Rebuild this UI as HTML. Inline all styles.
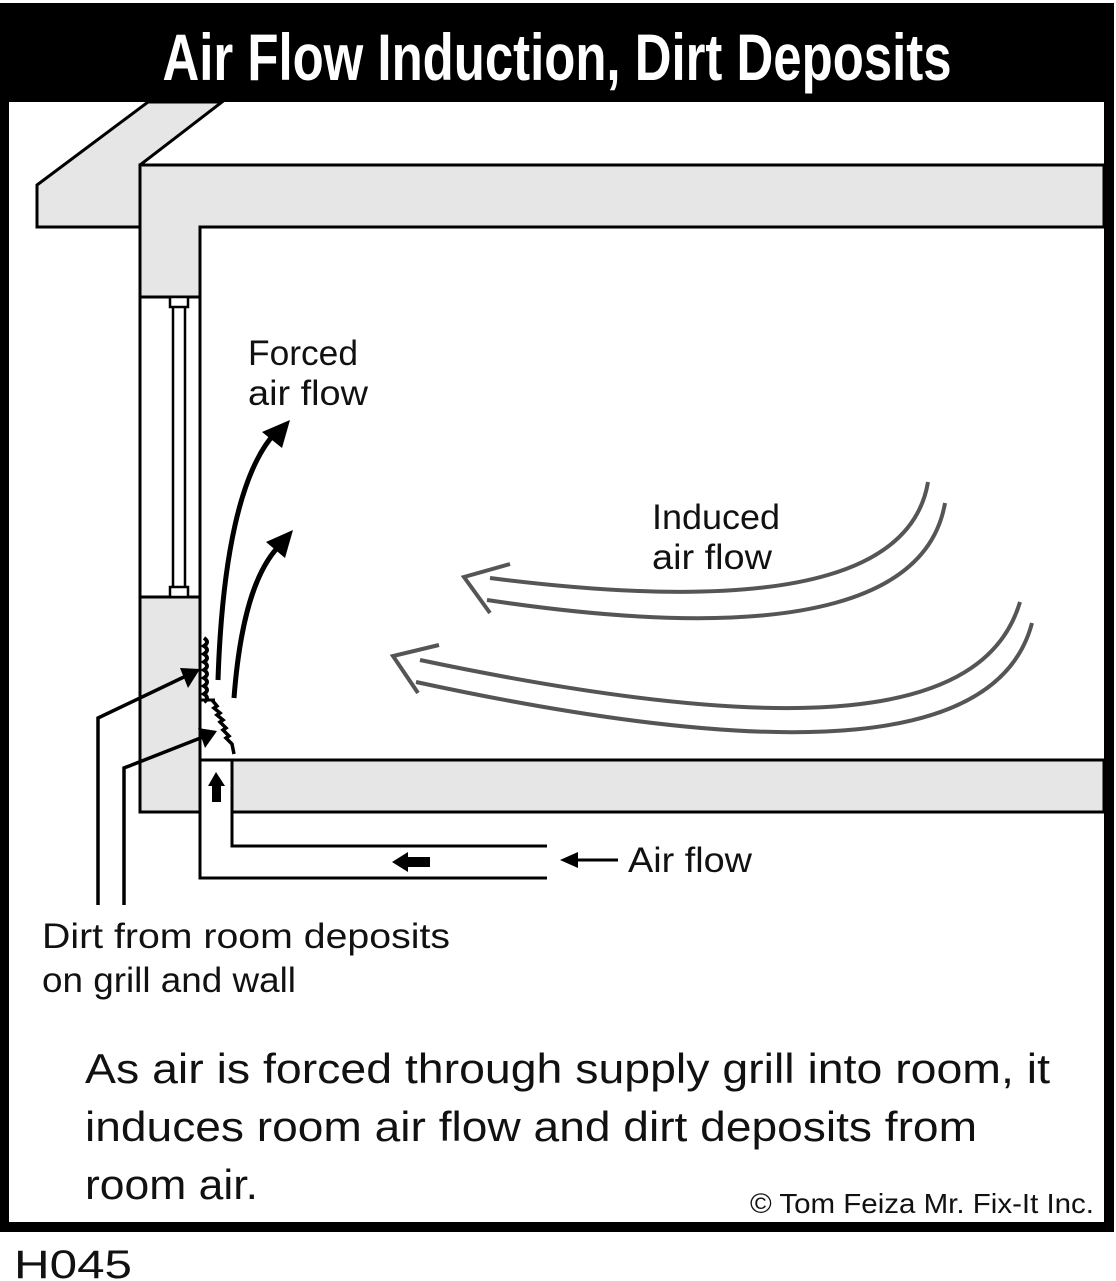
<!DOCTYPE html>
<html><head><meta charset="utf-8"><style>
html,body{margin:0;padding:0;background:#fff;}
svg{display:block;}
text{font-family:"Liberation Sans",sans-serif;fill:#111;}
</style></head><body>
<svg width="1116" height="1281" viewBox="0 0 1116 1281">
<defs>
<marker id="ah" markerWidth="10" markerHeight="10" refX="6" refY="5" orient="auto" markerUnits="userSpaceOnUse" viewBox="0 0 10 10"><path d="M0,0 L10,5 L0,10 Z" fill="#000"/></marker>
</defs>
<!-- frame -->
<rect x="0" y="3" width="1114" height="99" fill="#000"/>
<rect x="0" y="3" width="9" height="1229" fill="#000"/>
<rect x="1104" y="3" width="10" height="1229" fill="#000"/>
<rect x="0" y="1222" width="1114" height="10" fill="#000"/>
<text x="557" y="80" text-anchor="middle" font-family="'Liberation Sans Narrow','Liberation Sans',sans-serif" font-weight="bold" font-size="66" textLength="789" lengthAdjust="spacingAndGlyphs" style="fill:#fff">Air Flow Induction, Dirt Deposits</text>

<g stroke="#000" stroke-width="3" fill="#e6e6e7">
<!-- overhang -->
<polygon points="37,185 148,102 222,102 140,165 140,227 37,227"/>
<!-- ceiling + wall -->
<polygon points="140,165 1104,165 1104,227 200,227 200,812 140,812"/>
<!-- floor -->
<rect x="232" y="760" width="872" height="52"/>
</g>
<!-- window -->
<rect x="140" y="297" width="60" height="300" fill="#fff" stroke="#000" stroke-width="3"/>
<rect x="173" y="305" width="12" height="284" fill="#fff" stroke="#000" stroke-width="2.5"/>
<rect x="170" y="297" width="18" height="10" fill="#fff" stroke="#000" stroke-width="2.5"/>
<rect x="170" y="587" width="18" height="10" fill="#fff" stroke="#000" stroke-width="2.5"/>
<!-- grille area -->
<rect x="200" y="700" width="32" height="60" fill="#fff" stroke="none"/>
<path d="M200,700 L215,700 M200,700 L200,878 L547,878 M232,812 L232,846 L547,846 M200,760 L232,760" stroke="#000" stroke-width="3" fill="none"/>
<!-- dirt squiggles -->
<path d="M204,638 q6,4 0,8 q6,4 0,8 q6,4 0,8 q6,4 0,8 q6,4 0,8 q6,4 0,8 q6,4 0,8 q6,4 0,8" stroke="#000" stroke-width="4" fill="none"/>
<path d="M212,700 l5,6 l-3,2 l6,5 l-3,2 l6,5 l-3,2 l6,6 l-3,2 l6,6 l-3,2 l6,6 l2,10" stroke="#000" stroke-width="3.5" fill="none"/>
<!-- forced arrows -->
<path d="M218,680 C222,560 240,470 276,432" stroke="#000" stroke-width="5" fill="none"/>
<polygon points="290,420 262,432 282,448" fill="#000"/>
<path d="M234,698 C240,620 255,570 280,545" stroke="#000" stroke-width="5" fill="none"/>
<polygon points="293,530 266,542 285,558" fill="#000"/>
<!-- pointer lines -->
<path d="M98,905 L98,718 L186,676" stroke="#000" stroke-width="3.5" fill="none"/>
<polygon points="200,669 180,668 188,688" fill="#000"/>
<path d="M124,905 L124,768 L203,737" stroke="#000" stroke-width="3.5" fill="none"/>
<polygon points="217,731 198,728 205,748" fill="#000"/>
<!-- block arrows -->
<polygon points="216,772 208,786 212,786 212,802 221,802 221,786 225,786" fill="#000"/>
<polygon points="392,862 408,852 408,857 430,857 430,867 408,867 408,872" fill="#000"/>
<path d="M618,860 L575,860" stroke="#000" stroke-width="3"/>
<polygon points="560,860 578,852 578,868" fill="#000"/>
<!-- induced arrows -->
<g stroke="#555" stroke-width="4" fill="none">
<path d="M928,482 C915,560 820,620 490,578"/>
<path d="M945,503 C930,590 820,650 487,600"/>
<path d="M510,564 L464,577 L490,613"/>
<path d="M1020,602 C985,720 800,740 420,660"/>
<path d="M1032,623 C1000,745 800,765 416,682"/>
<path d="M439,645 L393,656 L418,693"/>
</g>
<!-- labels -->
<g font-size="35">
<text x="248" y="365" textLength="110" lengthAdjust="spacingAndGlyphs">Forced</text>
<text x="248" y="405" textLength="120" lengthAdjust="spacingAndGlyphs">air flow</text>
<text x="652" y="529" textLength="128" lengthAdjust="spacingAndGlyphs">Induced</text>
<text x="652" y="569" textLength="120" lengthAdjust="spacingAndGlyphs">air flow</text>
<text x="628" y="872" textLength="124" lengthAdjust="spacingAndGlyphs">Air flow</text>
<text x="42" y="948" textLength="408" lengthAdjust="spacingAndGlyphs">Dirt from room deposits</text>
<text x="42" y="992" textLength="254" lengthAdjust="spacingAndGlyphs">on grill and wall</text>
</g>
<g font-size="42">
<text x="85" y="1083" textLength="965" lengthAdjust="spacingAndGlyphs">As air is forced through supply grill into room, it</text>
<text x="85" y="1141" textLength="892" lengthAdjust="spacingAndGlyphs">induces room air flow and dirt deposits from</text>
<text x="85" y="1199" textLength="173" lengthAdjust="spacingAndGlyphs">room air.</text>
</g>
<text x="750" y="1213" font-size="28" textLength="344" lengthAdjust="spacingAndGlyphs">© Tom Feiza Mr. Fix-It Inc.</text>
<text x="14" y="1278" font-size="40" textLength="118" lengthAdjust="spacingAndGlyphs">H045</text>
</svg>
</body></html>
